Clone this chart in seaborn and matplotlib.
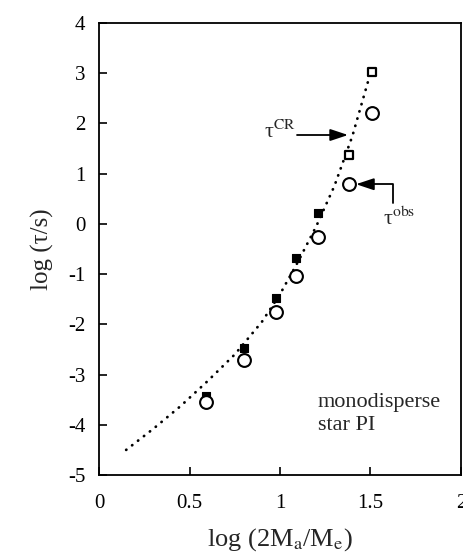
import matplotlib
matplotlib.use("Agg")
import matplotlib.pyplot as plt
import seaborn as sns
import pandas as pd

# ── Data ──────────────────────────────────────────────────────
x_pts = [0.59, 0.80, 0.98, 1.09, 1.21, 1.38, 1.51]
tau_cr_filled = [-3.43, -2.47, -1.48, -0.68, 0.21]      # filled squares
x_open_sq = [1.38, 1.51]
tau_cr_open = [1.37, 3.02]                              # open squares
tau_obs = [-3.55, -2.71, -1.75, -1.03, -0.26, 0.79, 2.21]  # open circles

curve_x = [0.15, 0.30, 0.45, 0.60, 0.75, 0.90, 1.00, 1.10, 1.20, 1.30, 1.40, 1.49]
curve_y = [-4.50, -4.08, -3.63, -3.13, -2.60, -1.95, -1.40, -0.75, -0.05, 0.75, 1.75, 2.88]

x_ticks = [0, 0.5, 1, 1.5, 2]
x_ticklabels = ['0', '0.5', '1', '1.5', '2']
y_ticks = [-5, -4, -3, -2, -1, 0, 1, 2, 3, 4]
y_ticklabels = ['-5', '-4', '-3', '-2', '-1', '0', '1', '2', '3', '4']

sns.set_theme(style='white')
plt.rcParams['font.family'] = ['Liberation Serif', 'DejaVu Serif']
plt.rcParams['mathtext.fontset'] = 'stix'
plt.rcParams['axes.unicode_minus'] = False

fig = plt.figure(figsize=(4.64, 5.57), dpi=100)
ax = fig.add_axes([0.2134, 0.1472, 0.7801, 0.8115])

# ── dotted model curve ──
curve = pd.DataFrame({'x': curve_x, 'y': curve_y})
sns.lineplot(x='x', y='y', data=curve, ax=ax, color='black', linewidth=2.0,
             linestyle=(0, (0.1, 2.6)), dash_capstyle='round', sort=False)

# ── data points ──
sns.scatterplot(x=x_pts[:5], y=tau_cr_filled, ax=ax, marker='s', s=40,
                color='black', edgecolor='black', linewidth=0.8, zorder=3)
sns.scatterplot(x=x_open_sq, y=tau_cr_open, ax=ax, marker='s', s=28,
                facecolor='white', edgecolor='black', linewidth=1.6, zorder=3)
sns.scatterplot(x=x_pts, y=tau_obs, ax=ax, marker='o', s=85,
                facecolor='white', edgecolor='black', linewidth=1.5, zorder=4)

# ── arrows + labels ──
ax.annotate('', xy=(1.376, 1.77), xytext=(1.094, 1.77),
            arrowprops=dict(arrowstyle='-|>,head_length=0.9,head_width=0.3',
                            color='black', lw=1.3, shrinkA=0, shrinkB=0))
ax.text(1.09, 1.83, r'τ$^{\rm CR}$', fontsize=16, ha='right', va='center')

ax.annotate('', xy=(1.42, 0.79), xytext=(1.624, 0.41),
            arrowprops=dict(arrowstyle='-|>,head_length=0.9,head_width=0.3',
                            connectionstyle='angle,angleA=90,angleB=0,rad=0',
                            color='black', lw=1.3, shrinkA=0, shrinkB=0))
ax.text(1.66, 0.10, r'τ$^{\rm obs}$', fontsize=16, ha='center', va='center')

ax.text(1.21, -3.78, 'monodisperse\nstar PI', fontsize=16, ha='left',
        va='center', linespacing=1.3)

ax.set_xlim(0, 2)
ax.set_ylim(-5, 4)
ax.set_xticks(x_ticks)
ax.set_xticklabels(x_ticklabels)
ax.set_yticks(y_ticks)
ax.set_yticklabels(y_ticklabels)
ax.tick_params(axis='both', direction='in', length=6, width=1.2, labelsize=15,
               color='black', labelcolor='black')
ax.tick_params(axis='y', pad=10, left=True)
ax.tick_params(axis='x', pad=14, bottom=True)
for sp in ax.spines.values():
    sp.set_color('black')
    sp.set_linewidth(1.3)

ax.set_xlabel('log (2M$_{\\rm a}$/M$_{\\rm e}$)', fontsize=19, labelpad=9)
ax.set_ylabel('log (τ/s)', fontsize=18, labelpad=10)

fig.savefig('out.png', dpi=100)
